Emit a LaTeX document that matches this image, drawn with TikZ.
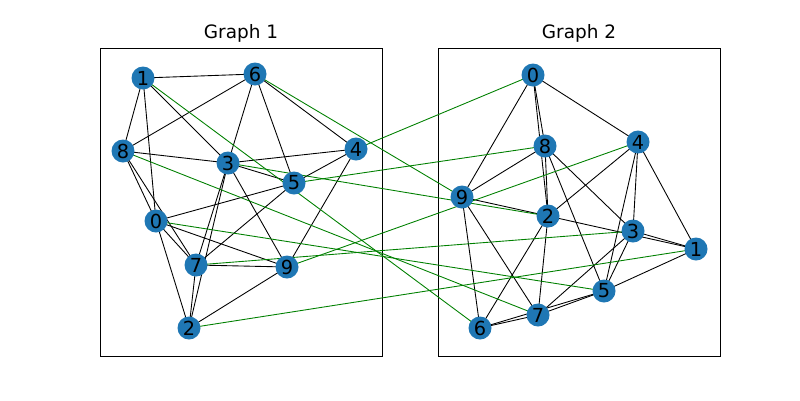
\documentclass[tikz,border=0pt]{standalone}
\usepackage{fontspec}
\setmainfont{DejaVu Sans}
\usetikzlibrary{positioning}
\definecolor{mplblue}{RGB}{31,119,180}
\definecolor{mplgreen}{RGB}{0,128,0}
\tikzstyle{vertex} = [circle, fill=mplblue, minimum size=0.46cm, inner sep=0pt, font=\fontsize{11}{11}\selectfont]
\tikzstyle{edge} = [black, line width=0.5pt]
\tikzstyle{match} = [mplgreen, line width=0.5pt]
\tikzstyle{frame} = [draw=black, line width=0.5pt]

\begin{document}
\begin{tikzpicture}[x=0.02cm, y=-0.02cm]
\useasboundingbox (0,0) rectangle (800,400);

% Frames and titles
\draw [frame] (100,48) rectangle (382,356);
\draw [frame] (438,48) rectangle (720,356);
\node (t1) at (241,33) {\fontsize{10.5}{12}\selectfont Graph 1};
\node (t2) at (579,33) {\fontsize{10.5}{12}\selectfont Graph 2};

% Graph 1 nodes
\coordinate (a1) at (143,78);
\coordinate (a6) at (255,74);
\coordinate (a8) at (123,151);
\coordinate (a3) at (228,163);
\coordinate (a4) at (356,149);
\coordinate (a5) at (294,183);
\coordinate (a0) at (156,221);
\coordinate (a7) at (196,265);
\coordinate (a9) at (287,267);
\coordinate (a2) at (189,328);

% Graph 2 nodes
\coordinate (b0) at (533,75);
\coordinate (b8) at (545,146);
\coordinate (b4) at (638,142);
\coordinate (b9) at (462,197);
\coordinate (b2) at (548,216);
\coordinate (b3) at (633,231);
\coordinate (b1) at (696,249);
\coordinate (b5) at (604,291);
\coordinate (b7) at (538,315);
\coordinate (b6) at (480,328);

% Edges of graph 1
\foreach \u/\v in {1/6,1/8,1/0,1/3,6/8,6/3,6/5,6/4,8/3,8/0,8/7,3/4,3/5,3/7,3/9,4/5,4/9,5/0,5/7,0/7,0/9,0/2,7/9,7/2,9/2,3/2}
  \draw [edge] (a\u) -- (a\v);

% Edges of graph 2
\foreach \u/\v in {0/8,0/2,0/9,0/4,8/9,8/2,8/3,8/5,4/2,4/3,4/5,4/1,9/2,2/1,3/1,9/6,9/7,2/6,2/7,3/5,3/7,5/1,5/7,5/6,7/6}
  \draw [edge] (b\u) -- (b\v);

% Matching
\foreach \u/\v in {1/6,6/9,4/0,5/8,3/2,8/7,0/5,7/3,9/4,2/1}
  \draw [match] (a\u) -- (b\v);

% Vertices on top
\foreach \n in {0,...,9} {
  \node (v1\n) [vertex] at (a\n) {\n};
  \node (v2\n) [vertex] at (b\n) {\n};
}

\end{tikzpicture}
\end{document}
